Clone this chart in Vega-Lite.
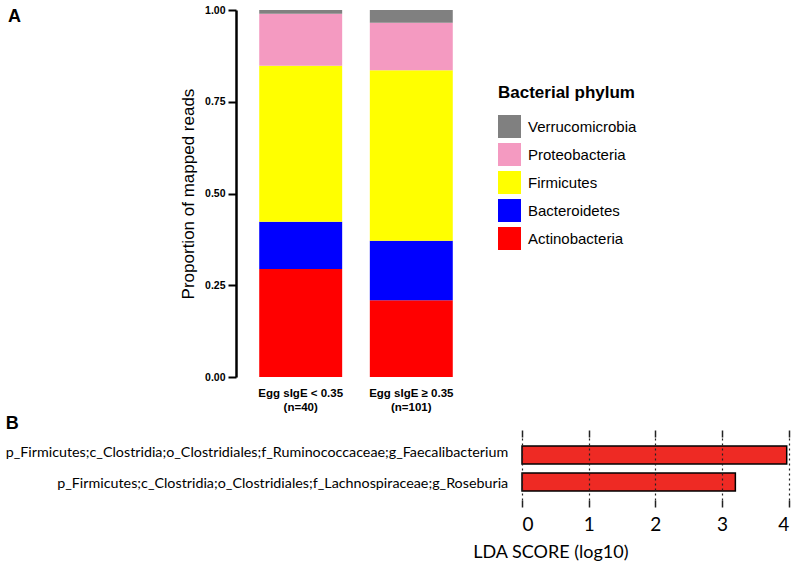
{
  "$schema": "https://vega.github.io/schema/vega-lite/v6.json",
  "padding": {"left": 5, "top": 5, "right": 5, "bottom": 5},
  "background": "white",
  "spacing": 2,
  "config": {
    "view": {"stroke": null},
    "axis": {"labelColor": "#000", "titleColor": "#000", "tickColor": "#000", "domainColor": "#000"}
  },
  "datasets": {
    "lefse": [
      {"taxon": "p_Firmicutes;c_Clostridia;o_Clostridiales;f_Ruminococcaceae;g_Faecalibacterium", "lda": 3.97},
      {"taxon": "p_Firmicutes;c_Clostridia;o_Clostridiales;f_Lachnospiraceae;g_Roseburia", "lda": 3.2}
    ]
  },
  "vconcat": [
    {
      "width": 240,
      "height": 367,
      "title": {"text": "A", "anchor": "start", "frame": "group", "dx": -228, "dy": 35, "offset": 0, "baseline": "alphabetic", "font": "Liberation Sans", "fontSize": 18, "fontWeight": "bold", "color": "#000"},
      "data": {
        "values": [
          {"group": "Egg sIgE < 0.35 (n=40)", "phylum": "Actinobacteria", "rank": 1, "proportion": 0.294},
          {"group": "Egg sIgE < 0.35 (n=40)", "phylum": "Bacteroidetes", "rank": 2, "proportion": 0.129},
          {"group": "Egg sIgE < 0.35 (n=40)", "phylum": "Firmicutes", "rank": 3, "proportion": 0.425},
          {"group": "Egg sIgE < 0.35 (n=40)", "phylum": "Proteobacteria", "rank": 4, "proportion": 0.142},
          {"group": "Egg sIgE < 0.35 (n=40)", "phylum": "Verrucomicrobia", "rank": 5, "proportion": 0.010},
          {"group": "Egg sIgE ≥ 0.35 (n=101)", "phylum": "Actinobacteria", "rank": 1, "proportion": 0.209},
          {"group": "Egg sIgE ≥ 0.35 (n=101)", "phylum": "Bacteroidetes", "rank": 2, "proportion": 0.162},
          {"group": "Egg sIgE ≥ 0.35 (n=101)", "phylum": "Firmicutes", "rank": 3, "proportion": 0.465},
          {"group": "Egg sIgE ≥ 0.35 (n=101)", "phylum": "Proteobacteria", "rank": 4, "proportion": 0.129},
          {"group": "Egg sIgE ≥ 0.35 (n=101)", "phylum": "Verrucomicrobia", "rank": 5, "proportion": 0.035}
        ]
      },
      "mark": {"type": "bar"},
      "encoding": {
        "x": {
          "field": "group", "type": "nominal", "sort": null,
          "scale": {"paddingInner": 0.25, "paddingOuter": 0.21},
          "axis": {
            "title": null, "labelAngle": 0, "domain": false, "ticks": false,
            "labelFont": "Liberation Sans", "labelFontSize": 11.5, "labelFontWeight": "bold",
            "labelPadding": 10, "labelLineHeight": 14,
            "labelExpr": "[slice(datum.label, 0, indexof(datum.label, ' (')), slice(datum.label, indexof(datum.label, ' (') + 1)]"
          }
        },
        "y": {
          "field": "proportion", "type": "quantitative", "stack": "zero",
          "scale": {"domain": [0, 1], "nice": false},
          "axis": {
            "title": "Proportion of mapped reads", "titleFont": "Liberation Sans", "titleFontSize": 17,
            "titleFontWeight": "normal", "titlePadding": 7,
            "values": [0, 0.25, 0.5, 0.75, 1], "format": ".2f",
            "labelFont": "Liberation Sans", "labelFontSize": 10.5, "labelFontWeight": "bold", "labelPadding": 3,
            "tickSize": 8, "tickWidth": 2, "domainWidth": 2.5, "grid": false
          }
        },
        "color": {
          "field": "phylum", "type": "nominal",
          "scale": {
            "domain": ["Verrucomicrobia", "Proteobacteria", "Firmicutes", "Bacteroidetes", "Actinobacteria"],
            "range": ["#808080", "#f49ac1", "#ffff00", "#0000ff", "#ff0000"]
          },
          "legend": {
            "title": "Bacterial phylum", "orient": "none", "legendX": 262, "legendY": 75,
            "titleFont": "Liberation Sans", "titleFontSize": 17, "titleFontWeight": "bold", "titleColor": "#000", "titlePadding": 13,
            "labelFont": "Liberation Sans", "labelFontSize": 15, "labelColor": "#000", "labelOffset": 7,
            "symbolType": "square", "symbolSize": 529, "symbolStrokeWidth": 0, "symbolOpacity": 1,
            "rowPadding": 5, "padding": 0
          }
        },
        "order": {"field": "rank", "type": "quantitative"}
      }
    },
    {
      "bounds": "flush",
      "spacing": 0,
      "hconcat": [
        {
          "width": 285.2,
          "height": 63,
          "title": {"text": "B", "anchor": "start", "frame": "bounds", "offset": 0, "dy": 10, "baseline": "alphabetic", "font": "Liberation Sans", "fontSize": 18, "fontWeight": "bold", "color": "#000"},
          "data": {"name": "lefse"},
          "mark": {"type": "text", "align": "right", "baseline": "middle", "x": "width", "dx": -13, "font": "Lato", "fontSize": 14.3, "color": "#000"},
          "encoding": {
            "y": {
              "field": "taxon", "type": "nominal", "sort": null,
              "scale": {"paddingInner": 0.333, "paddingOuter": 0.333},
              "axis": null
            },
            "text": {"field": "taxon", "type": "nominal"}
          }
        },
        {
          "width": 266.7,
          "height": 63,
          "data": {"name": "lefse"},
          "layer": [
            {
              "mark": {"type": "bar", "fill": "#ee2a24", "stroke": "#000", "strokeWidth": 1.5},
              "encoding": {
                "y": {
                  "field": "taxon", "type": "nominal", "sort": null,
                  "scale": {"paddingInner": 0.333, "paddingOuter": 0.333},
                  "axis": null
                },
                "x": {
                  "field": "lda", "type": "quantitative",
                  "scale": {"domain": [0, 4], "nice": false},
                  "axis": {
                    "orient": "bottom", "values": [0, 1, 2, 3, 4], "format": "d", "title": "LDA SCORE (log10)",
                    "domain": false, "grid": true, "gridDash": [2, 3], "gridColor": "#222", "gridWidth": 1.2,
                    "tickSize": 7, "tickWidth": 1.5, "tickColor": "#222",
                    "labelFont": "Lato", "labelFontSize": 19, "labelPadding": 8,
                    "titleFont": "Lato", "titleFontSize": 18, "titleFontWeight": "normal", "titlePadding": 9,
                    "titleAnchor": "start", "titleAlign": "right", "titleX": 106, "zindex": 1
                  }
                }
              }
            },
            {
              "mark": {"type": "bar", "opacity": 0},
              "encoding": {
                "y": {"field": "taxon", "type": "nominal", "sort": null, "axis": null},
                "x": {
                  "field": "lda", "type": "quantitative",
                  "axis": {"orient": "top", "values": [0, 1, 2, 3, 4], "labels": false, "domain": false, "grid": false, "tickSize": 7, "tickWidth": 1.5, "tickColor": "#222", "title": null}
                }
              }
            }
          ],
          "resolve": {"axis": {"x": "independent"}}
        }
      ]
    }
  ]
}
